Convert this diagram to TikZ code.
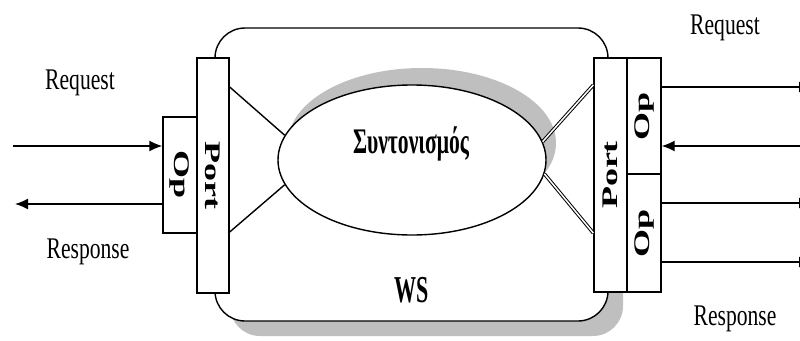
\documentclass[tikz,border=0pt]{standalone}
\usepackage{graphicx}
\usepackage{fontspec}
\setmainfont{Liberation Serif}
\usetikzlibrary{shapes.geometric,arrows.meta}
\definecolor{shadowgray}{gray}{0.75}
\newcommand{\narrow}[1]{\scalebox{0.72}[1]{#1}}
\newcommand{\downtext}[1]{\scalebox{0.62}[1]{\rotatebox{-90}{#1}}}
\newcommand{\uptext}[1]{\scalebox{0.62}[1]{\rotatebox{90}{#1}}}

\begin{document}
\begin{tikzpicture}[x=1pt,y=-1pt,
	line width=1.4pt,
	portbox/.style={draw, fill=white, inner sep=0pt, font=\fontsize{36}{36}\selectfont\bfseries},
	arr/.style={-{Latex[length=13pt,width=11pt]}},
	twin/.style={line width=1pt, double, double distance=1.5pt},
	msg/.style={anchor=base, font=\fontsize{30}{30}\selectfont}]
	\clip (0,0) rectangle (800,340);

	% web service body with its shadow
	\begin{scope}
	\clip (0,100) rectangle (800,340);
	\fill[shadowgray, rounded corners=30pt] (230,43) rectangle (623,336);
	\end{scope}
	\draw[fill=white, rounded corners=30pt] (215,28) rectangle (608,321);

	% coordination core
	\fill[shadowgray] (422,143) ellipse (134 and 75);
	\node[draw, fill=white, ellipse, minimum width=268pt, minimum height=150pt, inner sep=0pt] (sync) at (412,160) {};
	\node[anchor=base, font=\fontsize{36}{36}\selectfont\bfseries] (synctext) at (411,153) {\scalebox{0.6}[1]{Συντονισμός}};
	\node[anchor=base, font=\fontsize{38}{38}\selectfont\bfseries] (ws) at (412,302) {\scalebox{0.58}[1]{WS}};

	% ports and operations
	\node[portbox, minimum width=32pt, minimum height=235pt] (lport) at (213,175.5) {\downtext{Port}};
	\node[portbox, minimum width=34pt, minimum height=116pt] (lop) at (180,175) {\downtext{Op}};
	\node[portbox, minimum width=33pt, minimum height=234pt] (rport) at (610.5,175) {\uptext{Port}};
	\node[portbox, minimum width=34pt, minimum height=116pt] (ropa) at (644,116) {\uptext{Op}};
	\node[portbox, minimum width=34pt, minimum height=118pt] (ropb) at (644,233) {\uptext{Op}};

	\draw (lport.east |- 0,87) -- (sync.169);
	\draw (lport.east |- 0,232) -- (sync.191);
	\draw[twin] (sync.8) -- (rport.west |- 0,85);
	\draw[twin] (sync.-6) -- (rport.west |- 0,233);

	% messages in and out
	\coordinate (reqin) at (13,146);
	\coordinate (resout) at (15,204);
	\draw[arr] (reqin) -- (reqin -| lop.west);
	\draw[arr] (resout -| lop.west) -- (resout);

	\coordinate (ra) at (812,87);
	\coordinate (rb) at (800,146);
	\coordinate (rc) at (812,203);
	\coordinate (rd) at (812,262);
	\draw[arr] (ra -| ropa.east) -- (ra);
	\draw[arr] (rb) -- (rb -| ropa.east);
	\draw[arr] (rc -| ropb.east) -- (rc);
	\draw[arr] (rd -| ropb.east) -- (rd);

	\node[msg] (reqleft) at (80,89) {\narrow{Request}};
	\node[msg] (resleft) at (88,258) {\narrow{Response}};
	\node[msg] (reqright) at (725,34) {\narrow{Request}};
	\node[msg] (resright) at (735,325) {\narrow{Response}};
\end{tikzpicture}
\end{document}
